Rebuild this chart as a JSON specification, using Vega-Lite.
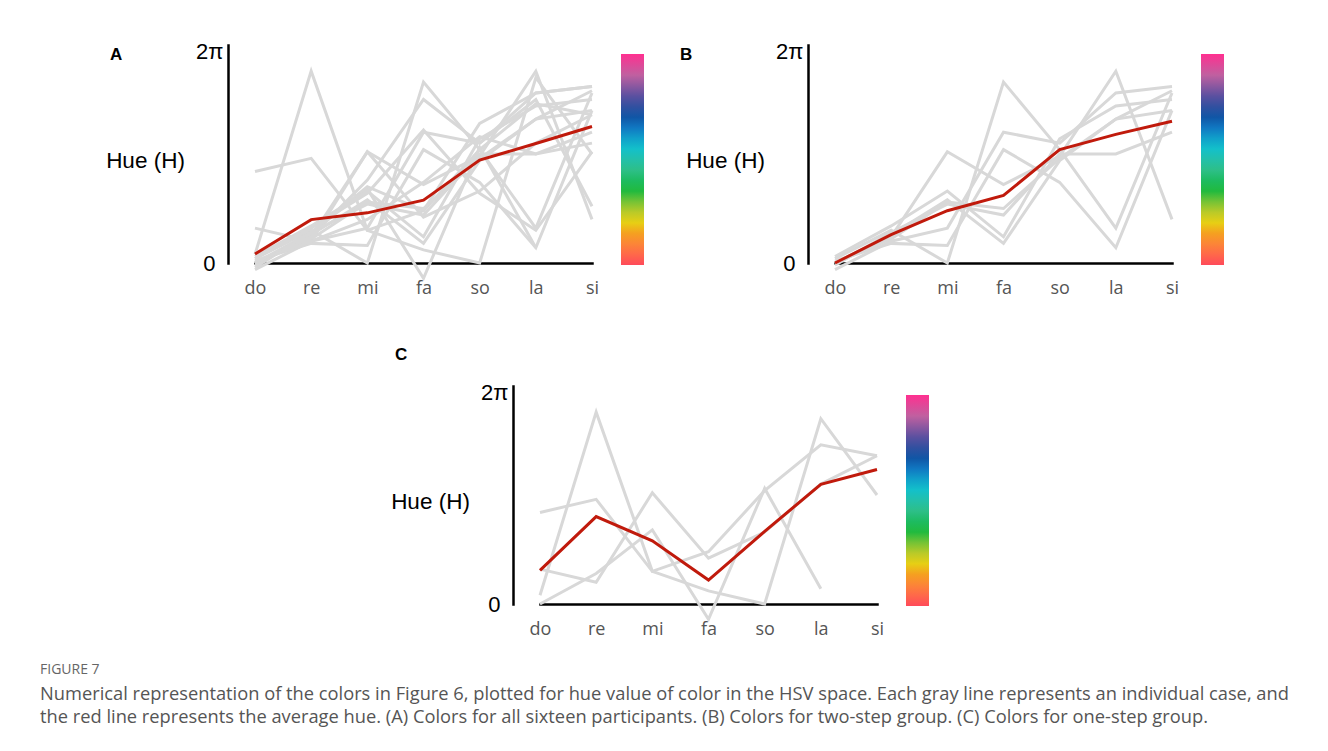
{
  "$schema": "https://vega.github.io/schema/vega-lite/v6.json",
  "padding": {"left": 40, "top": 40, "right": 0, "bottom": 0},
  "background": "#ffffff",
  "datasets": {
    "cases": [
      {"id": "P1", "group": "two-step", "do": 0.02, "re": 0.15, "mi": 0.00, "fa": 0.83, "so": 0.52, "la": 0.16, "si": 0.78},
      {"id": "P2", "group": "two-step", "do": 0.00, "re": 0.12, "mi": 0.51, "fa": 0.36, "so": 0.49, "la": 0.88, "si": 0.20},
      {"id": "P3", "group": "two-step", "do": -0.03, "re": 0.10, "mi": 0.16, "fa": 0.60, "so": 0.55, "la": 0.78, "si": 0.81},
      {"id": "P4", "group": "two-step", "do": 0.03, "re": 0.17, "mi": 0.33, "fa": 0.12, "so": 0.57, "la": 0.72, "si": 0.75},
      {"id": "P5", "group": "two-step", "do": 0.01, "re": 0.09, "mi": 0.08, "fa": 0.52, "so": 0.37, "la": 0.07, "si": 0.70},
      {"id": "P6", "group": "two-step", "do": 0.00, "re": 0.13, "mi": 0.29, "fa": 0.09, "so": 0.47, "la": 0.66, "si": 0.79},
      {"id": "P7", "group": "two-step", "do": -0.01, "re": 0.14, "mi": 0.27, "fa": 0.22, "so": 0.50, "la": 0.50, "si": 0.60},
      {"id": "P8", "group": "two-step", "do": 0.00, "re": 0.11, "mi": 0.28, "fa": 0.25, "so": 0.48, "la": 0.66, "si": 0.70},
      {"id": "P9", "group": "one-step", "do": 0.04, "re": 0.88, "mi": 0.15, "fa": 0.06, "so": 0.00, "la": 0.85, "si": 0.50},
      {"id": "P10", "group": "one-step", "do": 0.42, "re": 0.48, "mi": 0.15, "fa": 0.24, "so": 0.52, "la": 0.73, "si": 0.68},
      {"id": "P11", "group": "one-step", "do": 0.00, "re": 0.14, "mi": 0.34, "fa": -0.07, "so": 0.53, "la": 0.07, "si": null},
      {"id": "P12", "group": "one-step", "do": 0.16, "re": 0.10, "mi": 0.51, "fa": 0.21, "so": 0.33, "la": 0.55, "si": 0.68},
      {"id": "P13", "group": "other", "do": 0.00, "re": 0.12, "mi": 0.38, "fa": 0.75, "so": 0.55, "la": 0.75, "si": 0.26},
      {"id": "P14", "group": "other", "do": -0.02, "re": 0.14, "mi": 0.35, "fa": 0.24, "so": 0.64, "la": 0.78, "si": 0.81},
      {"id": "P15", "group": "other", "do": 0.01, "re": 0.10, "mi": 0.20, "fa": 0.37, "so": 0.58, "la": 0.50, "si": 0.55},
      {"id": "P16", "group": "other", "do": 0.02, "re": 0.16, "mi": 0.32, "fa": 0.61, "so": 0.32, "la": 0.15, "si": 0.51}
    ],
    "means": [
      {"panel": "A", "do": 0.041, "re": 0.199, "mi": 0.230, "fa": 0.288, "so": 0.472, "la": 0.548, "si": 0.626},
      {"panel": "B", "do": 0.0, "re": 0.13, "mi": 0.24, "fa": 0.31, "so": 0.52, "la": 0.59, "si": 0.65},
      {"panel": "C", "do": 0.154, "re": 0.401, "mi": 0.290, "fa": 0.110, "so": 0.333, "la": 0.549, "si": 0.617}
    ]
  },
  "title": {
    "text": "FIGURE 7",
    "subtitle": [
      "Numerical representation of the colors in Figure 6, plotted for hue value of color in the HSV space. Each gray line represents an individual case, and",
      "the red line represents the average hue. (A) Colors for all sixteen participants. (B) Colors for two-step group. (C) Colors for one-step group."
    ],
    "orient": "bottom",
    "anchor": "start",
    "frame": "group",
    "dx": -188,
    "offset": 25,
    "baseline": "top",
    "font": "Open Sans",
    "fontSize": 14,
    "fontWeight": "normal",
    "color": "#666666",
    "subtitleFont": "Open Sans",
    "subtitleFontSize": 18.3,
    "subtitleColor": "#555555",
    "subtitlePadding": 9,
    "subtitleLineHeight": 23
  },
  "vconcat": [
    {
      "hconcat": [
        {
          "width": 382, "height": 218,
          "title": {"text": "A", "orient": "top", "anchor": "start", "frame": "group", "dx": -118, "dy": 37, "offset": 0, "baseline": "alphabetic", "font": "Liberation Sans", "fontSize": 17, "fontWeight": "bold", "color": "#000000"},
          "encoding": {
            "x": {"field": "note", "type": "nominal", "sort": ["do", "re", "mi", "fa", "so", "la", "si"], "scale": {"type": "point", "range": [27, 364], "padding": 0},
              "axis": {"title": null, "domainColor": "#000000", "domainWidth": 2.5, "domainCap": "square", "ticks": false, "grid": false, "labelFont": "Open Sans", "labelFontSize": 18, "labelColor": "#555555", "labelPadding": 16, "labelAngle": 0}},
            "y": {"field": "hue", "type": "quantitative", "scale": {"domain": [0, 1], "nice": false, "zero": false},
              "axis": {"title": "Hue (H)", "values": [0, 1], "labelExpr": "datum.value == 0 ? '0' : '2π'", "domainColor": "#000000", "domainWidth": 2.5, "domainCap": "square", "ticks": false, "grid": false, "labelFont": "Liberation Sans", "labelFontSize": 22, "labelColor": "#000000", "labelPadding": {"condition": {"test": "datum.value > 0.5", "value": 5}, "value": 13}, "labelOffset": {"condition": {"test": "datum.value > 0.5", "value": 6}, "value": 0}, "labelBaseline": "middle", "labelFlush": false, "labelOverlap": false, "titleAngle": 0, "titleFont": "Liberation Sans", "titleFontSize": 22.5, "titleFontWeight": "normal", "titleColor": "#000000", "titleAlign": "center", "titleBaseline": "middle", "titleX": -83, "titleY": 115}}
          },
          "layer": [
            {"data": {"name": "cases"}, "transform": [{"fold": ["do", "re", "mi", "fa", "so", "la", "si"], "as": ["note", "hue"]}], "mark": {"type": "line", "color": "#d8d8d8", "strokeWidth": 3}, "encoding": {"detail": {"field": "id"}}},
            {"data": {"name": "means"}, "transform": [{"filter": "datum.panel === 'A'"}, {"fold": ["do", "re", "mi", "fa", "so", "la", "si"], "as": ["note", "hue"]}], "mark": {"type": "line", "color": "#c01a0c", "strokeWidth": 3}},
            {"data": {"name": "means"}, "transform": [{"filter": "datum.panel === 'A'"}, {"fold": ["do", "re", "mi", "fa", "so", "la", "si"], "as": ["note", "hue"]}], "mark": {"type": "point", "opacity": 0},
              "encoding": {"color": {"field": "hue", "type": "quantitative",
                "scale": {"domain": [0, 0.08, 0.15, 0.19, 0.27, 0.36, 0.46, 0.56, 0.66, 0.71, 0.80, 0.90, 1], "range": ["#ff4a5a", "#ff7a40", "#f5a020", "#f0d010", "#a8c830", "#10b840", "#30c090", "#10c0d0", "#1070c0", "#1050a0", "#5a50a0", "#c060a0", "#ff3090"], "interpolate": "rgb"},
                "legend": {"orient": "none", "legendX": 393, "legendY": 9, "direction": "vertical", "gradientLength": 211, "gradientThickness": 23, "gradientStrokeWidth": 0, "title": null, "labelExpr": "''", "padding": 0}}}}
          ]
        },
        {
          "width": 382, "height": 218,
          "title": {"text": "B", "orient": "top", "anchor": "start", "frame": "group", "dx": -128, "dy": 37, "offset": 0, "baseline": "alphabetic", "font": "Liberation Sans", "fontSize": 17, "fontWeight": "bold", "color": "#000000"},
          "encoding": {
            "x": {"field": "note", "type": "nominal", "sort": ["do", "re", "mi", "fa", "so", "la", "si"], "scale": {"type": "point", "range": [27, 364], "padding": 0},
              "axis": {"title": null, "domainColor": "#000000", "domainWidth": 2.5, "domainCap": "square", "ticks": false, "grid": false, "labelFont": "Open Sans", "labelFontSize": 18, "labelColor": "#555555", "labelPadding": 16, "labelAngle": 0}},
            "y": {"field": "hue", "type": "quantitative", "scale": {"domain": [0, 1], "nice": false, "zero": false},
              "axis": {"title": "Hue (H)", "values": [0, 1], "labelExpr": "datum.value == 0 ? '0' : '2π'", "domainColor": "#000000", "domainWidth": 2.5, "domainCap": "square", "ticks": false, "grid": false, "labelFont": "Liberation Sans", "labelFontSize": 22, "labelColor": "#000000", "labelPadding": {"condition": {"test": "datum.value > 0.5", "value": 5}, "value": 13}, "labelOffset": {"condition": {"test": "datum.value > 0.5", "value": 6}, "value": 0}, "labelBaseline": "middle", "labelFlush": false, "labelOverlap": false, "titleAngle": 0, "titleFont": "Liberation Sans", "titleFontSize": 22.5, "titleFontWeight": "normal", "titleColor": "#000000", "titleAlign": "center", "titleBaseline": "middle", "titleX": -83, "titleY": 115}}
          },
          "layer": [
            {"data": {"name": "cases"}, "transform": [{"filter": "datum.group === 'two-step'"}, {"fold": ["do", "re", "mi", "fa", "so", "la", "si"], "as": ["note", "hue"]}], "mark": {"type": "line", "color": "#d8d8d8", "strokeWidth": 3}, "encoding": {"detail": {"field": "id"}}},
            {"data": {"name": "means"}, "transform": [{"filter": "datum.panel === 'B'"}, {"fold": ["do", "re", "mi", "fa", "so", "la", "si"], "as": ["note", "hue"]}], "mark": {"type": "line", "color": "#c01a0c", "strokeWidth": 3}},
            {"data": {"name": "means"}, "transform": [{"filter": "datum.panel === 'B'"}, {"fold": ["do", "re", "mi", "fa", "so", "la", "si"], "as": ["note", "hue"]}], "mark": {"type": "point", "opacity": 0},
              "encoding": {"color": {"field": "hue", "type": "quantitative",
                "scale": {"domain": [0, 0.08, 0.15, 0.19, 0.27, 0.36, 0.46, 0.56, 0.66, 0.71, 0.80, 0.90, 1], "range": ["#ff4a5a", "#ff7a40", "#f5a020", "#f0d010", "#a8c830", "#10b840", "#30c090", "#10c0d0", "#1070c0", "#1050a0", "#5a50a0", "#c060a0", "#ff3090"], "interpolate": "rgb"},
                "legend": {"orient": "none", "legendX": 393, "legendY": 9, "direction": "vertical", "gradientLength": 211, "gradientThickness": 23, "gradientStrokeWidth": 0, "title": null, "labelExpr": "''", "padding": 0}}}}
          ]
        }
      ],
      "spacing": 198,
      "bounds": "flush",
      "resolve": {"scale": {"color": "independent"}, "legend": {"color": "independent"}}
    },
    {
      "width": 382, "height": 218,
      "title": {"text": "C", "orient": "top", "anchor": "start", "frame": "group", "dx": -118, "dy": -4, "offset": 0, "baseline": "alphabetic", "font": "Liberation Sans", "fontSize": 17, "fontWeight": "bold", "color": "#000000"},
      "encoding": {
        "x": {"field": "note", "type": "nominal", "sort": ["do", "re", "mi", "fa", "so", "la", "si"], "scale": {"type": "point", "range": [27, 364], "padding": 0},
          "axis": {"title": null, "domainColor": "#000000", "domainWidth": 2.5, "domainCap": "square", "ticks": false, "grid": false, "labelFont": "Open Sans", "labelFontSize": 18, "labelColor": "#555555", "labelPadding": 16, "labelAngle": 0}},
        "y": {"field": "hue", "type": "quantitative", "scale": {"domain": [0, 1], "nice": false, "zero": false},
          "axis": {"title": "Hue (H)", "values": [0, 1], "labelExpr": "datum.value == 0 ? '0' : '2π'", "domainColor": "#000000", "domainWidth": 2.5, "domainCap": "square", "ticks": false, "grid": false, "labelFont": "Liberation Sans", "labelFontSize": 22, "labelColor": "#000000", "labelPadding": {"condition": {"test": "datum.value > 0.5", "value": 5}, "value": 13}, "labelOffset": {"condition": {"test": "datum.value > 0.5", "value": 6}, "value": 0}, "labelBaseline": "middle", "labelFlush": false, "labelOverlap": false, "titleAngle": 0, "titleFont": "Liberation Sans", "titleFontSize": 22.5, "titleFontWeight": "normal", "titleColor": "#000000", "titleAlign": "center", "titleBaseline": "middle", "titleX": -83, "titleY": 115}}
      },
      "layer": [
        {"data": {"name": "cases"}, "transform": [{"filter": "datum.group === 'one-step'"}, {"fold": ["do", "re", "mi", "fa", "so", "la", "si"], "as": ["note", "hue"]}], "mark": {"type": "line", "color": "#d8d8d8", "strokeWidth": 3}, "encoding": {"detail": {"field": "id"}}},
        {"data": {"name": "means"}, "transform": [{"filter": "datum.panel === 'C'"}, {"fold": ["do", "re", "mi", "fa", "so", "la", "si"], "as": ["note", "hue"]}], "mark": {"type": "line", "color": "#c01a0c", "strokeWidth": 3}},
        {"data": {"name": "means"}, "transform": [{"filter": "datum.panel === 'C'"}, {"fold": ["do", "re", "mi", "fa", "so", "la", "si"], "as": ["note", "hue"]}], "mark": {"type": "point", "opacity": 0},
          "encoding": {"color": {"field": "hue", "type": "quantitative",
            "scale": {"domain": [0, 0.08, 0.15, 0.19, 0.27, 0.36, 0.46, 0.56, 0.66, 0.71, 0.80, 0.90, 1], "range": ["#ff4a5a", "#ff7a40", "#f5a020", "#f0d010", "#a8c830", "#10b840", "#30c090", "#10c0d0", "#1070c0", "#1050a0", "#5a50a0", "#c060a0", "#ff3090"], "interpolate": "rgb"},
            "legend": {"orient": "none", "legendX": 383, "legendY": -1, "direction": "vertical", "gradientLength": 211, "gradientThickness": 23, "gradientStrokeWidth": 0, "title": null, "labelExpr": "''", "padding": 10}}}}
      ]
    }
  ],
  "spacing": 49,
  "center": true,
  "resolve": {"scale": {"color": "independent"}, "legend": {"color": "independent"}},
  "config": {"view": {"stroke": null}}
}
